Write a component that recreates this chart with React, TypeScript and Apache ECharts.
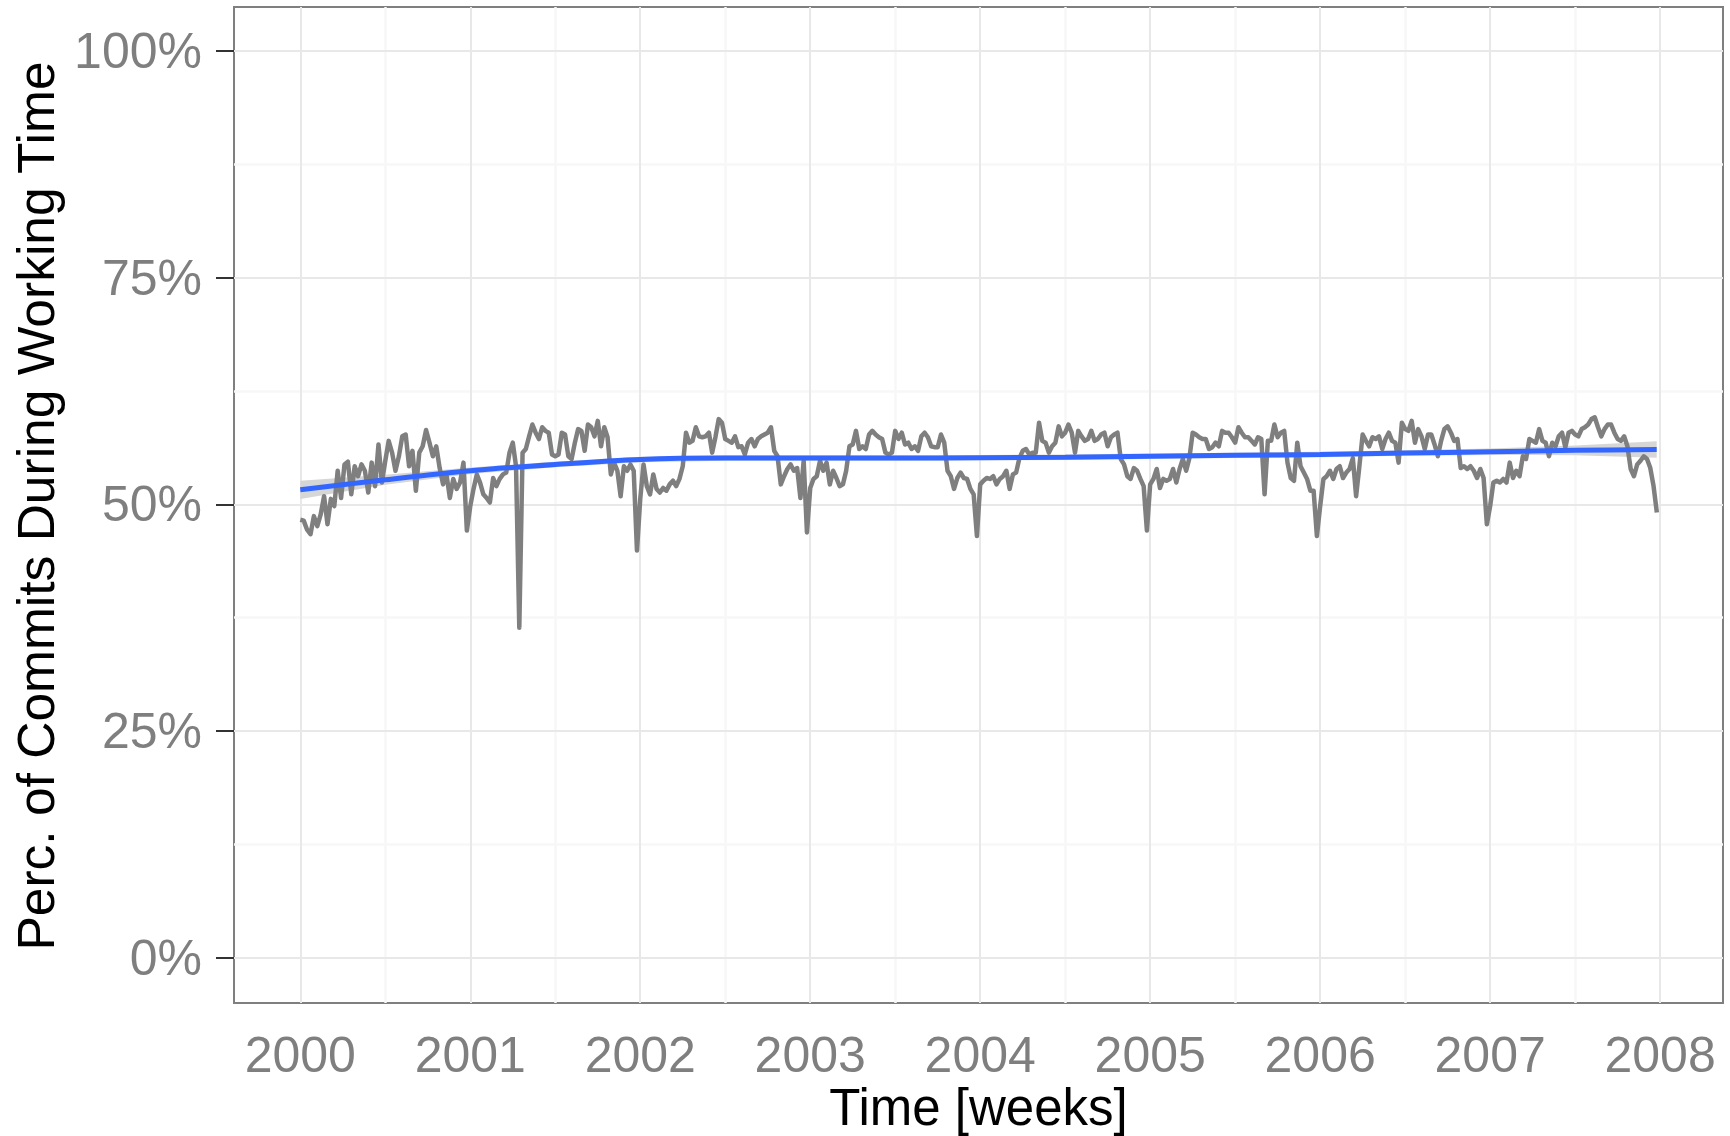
import React, { useEffect, useRef } from 'react';
import * as echarts from 'echarts';

// Weekly percentage of commits during working time, one array per year
const yearStarts = [2000, 2001, 2002, 2003, 2004, 2005, 2006, 2007];
const pct2000 = [48.3, 48.2, 47.2, 46.7, 48.7, 47.6, 48.9, 50.9, 47.8, 50.6, 49.8, 53.7, 50.7, 54.4, 54.7, 51.1, 54.2, 53.1, 54.4, 53.7, 51.3, 54.6, 52.0, 56.6, 52.4, 54.8, 57.0, 55.7, 53.7, 55.3, 57.5, 57.7, 54.2, 55.9, 51.5, 55.7, 56.4, 58.2, 56.8, 55.3, 56.4, 54.0, 52.2, 53.3, 50.7, 52.8, 51.7, 52.4, 54.6, 47.1];
const pct2001 = [49.8, 51.7, 53.3, 52.4, 51.1, 50.7, 50.2, 52.9, 52.0, 52.8, 53.3, 53.5, 55.7, 56.8, 54.2, 36.4, 55.7, 56.1, 57.5, 58.8, 57.9, 57.2, 58.5, 58.1, 57.9, 55.5, 55.3, 55.5, 57.9, 57.7, 55.3, 55.0, 56.8, 58.3, 58.1, 55.9, 58.8, 58.5, 57.5, 59.2, 56.4, 58.5, 57.4, 53.3, 54.6, 53.7, 50.9, 54.2, 53.7, 54.4, 53.7, 44.9];
const pct2002 = [50.6, 54.4, 52.0, 51.1, 53.3, 51.7, 51.3, 51.8, 51.5, 52.2, 52.6, 52.0, 52.8, 54.2, 57.9, 56.8, 57.0, 58.5, 57.5, 57.4, 57.5, 57.9, 55.7, 57.4, 59.4, 59.0, 57.2, 57.0, 56.8, 57.5, 56.3, 56.4, 55.5, 56.8, 57.2, 56.4, 57.2, 57.5, 57.7, 57.9, 58.5, 55.9, 55.3, 52.2, 53.1, 53.9, 54.4, 53.7, 54.0, 50.7, 54.8, 46.9];
const pct2003 = [51.8, 52.8, 53.1, 54.8, 53.7, 54.6, 52.2, 53.7, 52.9, 52.0, 52.2, 53.7, 56.4, 56.6, 58.1, 56.1, 56.4, 56.1, 57.7, 58.1, 57.7, 57.4, 57.2, 55.7, 55.5, 55.7, 58.1, 57.2, 57.9, 56.6, 56.8, 56.1, 56.4, 55.9, 57.5, 57.9, 57.4, 56.4, 56.3, 56.3, 57.7, 56.8, 53.7, 53.1, 51.7, 52.9, 53.5, 52.9, 52.8, 51.7, 51.1, 46.5];
const pct2004 = [52.2, 52.6, 52.9, 52.8, 53.1, 52.2, 52.8, 53.1, 53.7, 51.7, 53.3, 53.5, 55.1, 55.9, 56.1, 55.5, 55.7, 55.7, 59.0, 57.0, 56.8, 55.7, 56.4, 56.8, 58.6, 57.5, 57.9, 58.8, 57.9, 55.7, 58.1, 57.5, 57.0, 57.2, 58.1, 57.0, 57.2, 57.7, 57.9, 56.4, 57.4, 57.7, 57.9, 55.0, 54.4, 53.1, 52.8, 54.0, 53.7, 52.8, 52.0, 47.1];
const pct2005 = [52.2, 52.8, 53.9, 51.8, 52.8, 52.6, 52.8, 53.9, 52.4, 53.9, 55.0, 53.7, 55.1, 57.9, 57.7, 57.4, 57.2, 57.2, 56.1, 56.3, 56.8, 56.4, 58.1, 57.9, 57.9, 57.4, 56.8, 58.5, 57.9, 57.4, 57.4, 57.0, 56.6, 57.4, 57.2, 51.1, 57.0, 57.0, 58.8, 57.4, 57.9, 58.1, 54.6, 52.9, 52.6, 56.8, 54.2, 53.5, 52.8, 51.5, 51.5, 46.5];
const pct2006 = [49.8, 52.8, 53.1, 53.7, 52.8, 53.9, 54.2, 52.9, 53.5, 53.9, 55.1, 50.9, 54.2, 57.7, 57.0, 56.4, 57.4, 57.2, 57.5, 56.1, 57.2, 57.9, 57.0, 56.8, 54.6, 59.0, 58.3, 58.1, 59.2, 56.8, 58.3, 57.5, 56.1, 57.7, 57.7, 56.6, 55.3, 57.0, 58.3, 58.6, 57.9, 57.0, 57.2, 54.0, 54.2, 53.9, 54.2, 53.7, 52.9, 53.9, 52.9, 47.8];
const pct2007 = [49.8, 52.4, 52.6, 52.4, 52.8, 52.4, 54.6, 52.9, 53.7, 53.1, 55.3, 55.0, 57.2, 57.0, 56.8, 58.3, 57.0, 56.8, 55.3, 56.8, 56.4, 57.5, 57.9, 56.3, 57.9, 58.1, 57.7, 57.5, 58.3, 58.5, 58.8, 59.4, 59.6, 58.5, 57.5, 58.3, 58.8, 58.8, 57.9, 57.2, 57.0, 57.5, 56.4, 53.9, 53.1, 54.4, 54.8, 55.3, 55.0, 54.0, 52.0, 49.1];
const weeklyByYear = [pct2000, pct2001, pct2002, pct2003, pct2004, pct2005, pct2006, pct2007];

// Smoothed trend (loess) and its confidence half-width
const smoothX = [2000, 2000.5, 2001, 2001.5, 2002, 2002.5, 2003, 2003.5, 2004, 2004.5, 2005, 2005.5, 2006, 2006.5, 2007, 2007.5, 2007.98];
const smoothY = [51.6, 52.7, 53.7, 54.4, 54.95, 55.1, 55.1, 55.1, 55.15, 55.2, 55.3, 55.4, 55.5, 55.65, 55.8, 55.95, 56.05];
const bandHalfWidth = [1.0, 0.55, 0.35, 0.3, 0.3, 0.3, 0.3, 0.3, 0.3, 0.3, 0.3, 0.3, 0.3, 0.3, 0.35, 0.55, 0.9];

// Axis breaks
const yTicks = [0, 25, 50, 75, 100];
const yMinor = [12.5, 37.5, 62.5, 87.5];
const xTicks = [2000, 2001, 2002, 2003, 2004, 2005, 2006, 2007, 2008];
const xMinor = [2000.5, 2001.5, 2002.5, 2003.5, 2004.5, 2005.5, 2006.5, 2007.5];

const FONT = 'Liberation Sans, Arial, Helvetica, sans-serif';

export default function App() {
  const ref = useRef<HTMLDivElement>(null);
  useEffect(() => {
    const chart = echarts.init(ref.current!, null, { renderer: 'svg' });
    const weekly: number[][] = [];
    weeklyByYear.forEach((arr, k) => {
      arr.forEach((v, j) => weekly.push([yearStarts[k] + j / arr.length, v]));
    });
    const smooth = smoothX.map((x, i) => [x, smoothY[i]]);

    const minorStyle = { color: '#F7F7F7', width: 2.5, type: 'solid' };
    const majorStyle = { color: '#E8E8E8', width: 2, type: 'solid' };
    const gridLines = [
      ...yMinor.map((v) => ({ yAxis: v, lineStyle: minorStyle })),
      ...xMinor.map((v) => ({ xAxis: v, lineStyle: minorStyle })),
      ...yTicks.map((v) => ({ yAxis: v, lineStyle: majorStyle })),
      ...xTicks.map((v) => ({ xAxis: v, lineStyle: majorStyle })),
    ];

    const option: any = {
      animation: false,
      backgroundColor: '#ffffff',
      grid: {
        left: 234,
        right: 7,
        top: 7,
        bottom: 133,
        show: true,
        borderColor: '#7F7F7F',
        borderWidth: 2,
        backgroundColor: '#ffffff',
      },
      xAxis: {
        type: 'value',
        min: 1999.61,
        max: 2008.37,
        axisLine: { show: false },
        splitLine: { show: false },
        axisTick: {
          show: true,
          customValues: xTicks,
          length: 18,
          lineStyle: { color: '#333333', width: 2 },
        },
        axisLabel: {
          customValues: xTicks,
          formatter: (v: number) => String(Math.round(v)),
          color: '#7F7F7F',
          fontSize: 50,
          fontFamily: FONT,
          margin: 27,
        },
      },
      yAxis: {
        type: 'value',
        min: -5,
        max: 104.85,
        axisLine: { show: false },
        splitLine: { show: false },
        axisTick: {
          show: true,
          customValues: yTicks,
          length: 18,
          lineStyle: { color: '#333333', width: 2 },
        },
        axisLabel: {
          customValues: yTicks,
          formatter: (v: number) => `${Math.round(v)}%`,
          color: '#7F7F7F',
          fontSize: 50,
          fontFamily: FONT,
          margin: 32,
        },
      },
      graphic: [
        {
          type: 'text',
          x: 978.5,
          y: 1107,
          style: {
            text: 'Time [weeks]',
            fill: '#000000',
            fontSize: 51,
            fontFamily: FONT,
            align: 'center',
            verticalAlign: 'middle',
          },
        },
        {
          type: 'text',
          x: 35.5,
          y: 506,
          rotation: Math.PI / 2,
          style: {
            text: 'Perc. of Commits During Working Time',
            fill: '#000000',
            fontSize: 51.5,
            fontFamily: FONT,
            align: 'center',
            verticalAlign: 'middle',
          },
        },
      ],
      series: [
        {
          type: 'custom',
          name: 'band',
          data: [[smoothX[0], smoothY[0]]],
          silent: true,
          z: 10,
          renderItem: (params: any, api: any) => {
            const upper = smoothX.map((x, i) => api.coord([x, smoothY[i] + bandHalfWidth[i]]));
            const lower = smoothX
              .map((x, i) => api.coord([x, smoothY[i] - bandHalfWidth[i]]))
              .reverse();
            return {
              type: 'polygon',
              shape: { points: upper.concat(lower) },
              style: { fill: '#D6D6D6', stroke: 'none' },
            };
          },
        },
        {
          type: 'line',
          name: 'weekly',
          data: weekly,
          symbol: 'none',
          lineStyle: { color: '#7F7F7F', width: 4.5, join: 'round' },
          silent: true,
          z: 11,
          markLine: {
            silent: true,
            symbol: ['none', 'none'],
            label: { show: false },
            emphasis: { disabled: true },
            animation: false,
            data: gridLines,
          },
        },
        {
          type: 'line',
          name: 'smooth',
          data: smooth,
          smooth: 0.3,
          symbol: 'none',
          lineStyle: { color: '#3366FF', width: 5 },
          silent: true,
          z: 12,
        },
      ],
    };
    chart.setOption(option);
    return () => chart.dispose();
  }, []);
  return (
    <div
      ref={ref}
      style={{ position: 'fixed', left: 0, top: 0, width: 1730, height: 1136, background: '#ffffff' }}
    />
  );
}
